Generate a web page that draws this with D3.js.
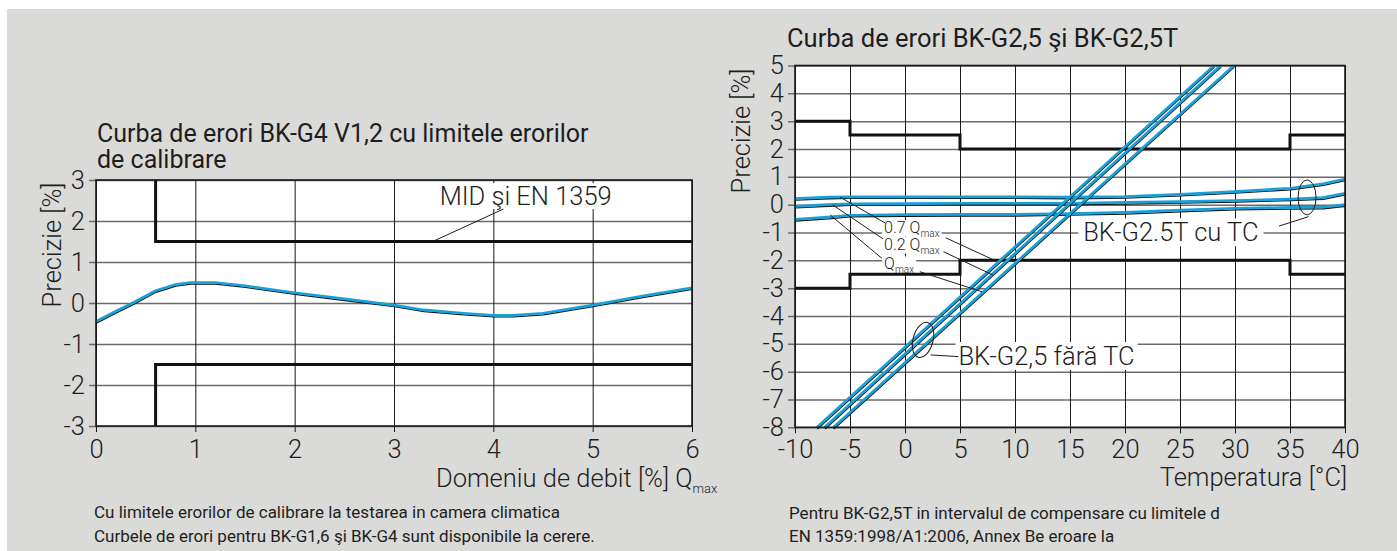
<!DOCTYPE html>
<html><head><meta charset="utf-8">
<script src="https://cdn.jsdelivr.net/npm/d3@7"></script>
<style>html,body{margin:0;padding:0;background:#fff;}svg{display:block;}</style>
</head><body>
<svg id="c" width="1397" height="551"></svg>
<script>
// ---------- data: left chart (BK-G4) ----------
const leftTitle = ["Curba de erori BK-G4 V1,2 cu limitele erorilor", "de calibrare"];
const leftXTicks = [0, 1, 2, 3, 4, 5, 6];
const leftYTicks = [3, 2, 1, 0, -1, -2, -3];
const curveQ   = [0, 0.2, 0.37, 0.6, 0.8, 0.95, 1.2, 1.5, 2, 2.5, 3, 3.3, 3.7, 4.0, 4.2, 4.5, 5, 5.5, 6];
const curveErr = [-0.45, -0.2, 0, 0.3, 0.45, 0.5, 0.5, 0.42, 0.25, 0.1, -0.05, -0.17, -0.25, -0.3, -0.3, -0.25, -0.05, 0.17, 0.37];
const limitQ = [0.6, 0.6, 6];
const upperLimitL = [3, 1.5, 1.5];
const lowerLimitL = [-3, -1.5, -1.5];

// ---------- data: right chart (BK-G2,5 / BK-G2,5T) ----------
const rightTitle = "Curba de erori BK-G2,5 şi BK-G2,5T";
const tempTicks = [-10, -5, 0, 5, 10, 15, 20, 25, 30, 35, 40];
const errTicks = [5, 4, 3, 2, 1, 0, -1, -2, -3, -4, -5, -6, -7, -8];
const limitTemp = [-10, -5, -5, 5, 5, 35, 35, 40];
const upperLimitR = [3, 3, 2.5, 2.5, 2, 2, 2.5, 2.5];
const lowerLimitR = [-3, -3, -2.5, -2.5, -2, -2, -2.5, -2.5];
// BK-G2,5 without temperature compensation (three flows)
const noTcErr = [-8, 5];
const noTcTemp07 = [-8.0, 28.1];
const noTcTemp02 = [-7.3, 28.7];
const noTcTempMax = [-6.5, 29.9];
// BK-G2.5T with temperature compensation
const tcTemp = [-10, -7, -5, 0, 5, 10, 15, 20, 25, 30, 35, 38, 40];
const tc07  = [0.22, 0.27, 0.28, 0.28, 0.28, 0.28, 0.27, 0.29, 0.37, 0.47, 0.59, 0.75, 0.92];
const tc02  = [-0.06, 0.0, 0.03, 0.04, 0.05, 0.05, 0.05, 0.08, 0.11, 0.15, 0.2, 0.25, 0.41];
const tcMax = [-0.53, -0.45, -0.38, -0.36, -0.35, -0.35, -0.32, -0.28, -0.2, -0.13, -0.1, -0.09, 0.0];

const FONT = "Roboto, 'Open Sans', 'DejaVu Sans', sans-serif";
const BIG = 25.5;
const BLUE = "#18a1d8";
const INK = "#1e1e1e";

const svg = d3.select("#c");
svg.append("rect").attr("x", 7).attr("y", 9).attr("width", 1390).attr("height", 542).attr("fill", "#dadad8");

function txt(g, x, y, s, size, weight, anchor) {
  return g.append("text").attr("x", x).attr("y", y).text(s)
    .attr("font-family", FONT).attr("font-size", size).attr("font-weight", weight || 400)
    .attr("fill", INK).attr("text-anchor", anchor || "start");
}
function boxBehind(boxG, t, padX, padY) {
  const b = t.node().getBBox();
  boxG.append("rect").attr("x", b.x - padX).attr("y", b.y - padY)
    .attr("width", b.width + 2 * padX).attr("height", b.height + 2 * padY).attr("fill", "#fff");
}
function blueLine(g, pts, x, y) {
  const line = d3.line().x(d => x(d[0])).y(d => y(d[1]));
  g.append("path").attr("d", line(pts)).attr("fill", "none").attr("stroke", "#111")
    .attr("stroke-width", 1.3).attr("transform", "translate(0.4,1.6)");
  g.append("path").attr("d", line(pts)).attr("fill", "none").attr("stroke", BLUE)
    .attr("stroke-width", 2.7).attr("stroke-linejoin", "round");
}
function grid(g, x, y, xt, yt, padB) {
  const [x0, x1] = x.range(), [y0, y1] = y.range();
  const ya = d3.axisLeft(y).tickValues(yt).tickFormat(d => String(d)).tickSize(x1 - x0 + 7).tickPadding(4);
  const yg = g.append("g").attr("transform", `translate(${x1},0)`).call(ya);
  yg.select(".domain").remove();
  yg.selectAll("line").attr("stroke", "#6b6b6b").attr("stroke-width", 1.5);
  yg.selectAll("text").attr("font-family", FONT).attr("font-size", BIG).attr("font-weight", 300).attr("fill", INK);
  const xa = d3.axisBottom(x).tickValues(xt).tickFormat(d => String(d)).tickSize(y0 - y1 + 6).tickPadding(padB);
  const xg = g.append("g").attr("transform", `translate(0,${y1})`).call(xa);
  xg.select(".domain").remove();
  xg.selectAll("line").attr("stroke", "#1a1a1a").attr("stroke-width", 1);
  xg.selectAll("text").attr("font-family", FONT).attr("font-size", BIG).attr("font-weight", 300).attr("fill", INK);
}

// ================= LEFT CHART =================
const L = svg.append("g");
const xL = d3.scaleLinear().domain([0, 6]).range([96, 692]);
const yL = d3.scaleLinear().domain([-3, 3]).range([426, 180]);
L.append("rect").attr("x", xL(0)).attr("y", yL(3)).attr("width", xL(6) - xL(0)).attr("height", yL(-3) - yL(3)).attr("fill", "#fff");
grid(L, xL, yL, leftXTicks, leftYTicks, 8);
const boxL = L.append("g");
const labL = L.append("g");

// MID label with leader
const midT = txt(labL, xL(3.46), yL(2.39), "MID şi EN 1359", BIG, 300);
boxBehind(boxL, midT, 2, -2);
L.append("line").attr("x1", xL(3.39)).attr("y1", yL(1.5)).attr("x2", xL(4.1)).attr("y2", yL(2.29)).attr("stroke", INK).attr("stroke-width", 1);

const limLine = d3.line().x(d => xL(d[0])).y(d => yL(d[1]));
L.append("path").attr("d", limLine(limitQ.map((q, i) => [q, upperLimitL[i]]))).attr("fill", "none").attr("stroke", "#111").attr("stroke-width", 3);
L.append("path").attr("d", limLine(limitQ.map((q, i) => [q, lowerLimitL[i]]))).attr("fill", "none").attr("stroke", "#111").attr("stroke-width", 3);
blueLine(L, curveQ.map((q, i) => [q, curveErr[i]]), xL, yL);
L.append("rect").attr("x", xL(0)).attr("y", yL(3)).attr("width", xL(6) - xL(0)).attr("height", yL(-3) - yL(3)).attr("fill", "none").attr("stroke", "#1a1a1a").attr("stroke-width", 1.6);
labL.raise();

txt(L, 97, 141.5, leftTitle[0], 25, 400);
txt(L, 97, 168, leftTitle[1], 25, 400);
txt(L, 0, 0, "Precizie [%]", BIG, 300, "middle").attr("transform", "translate(61,245) rotate(-90)");
const dt = txt(L, 436, 486.5, "Domeniu de debit [%] Q", BIG, 300);
dt.append("tspan").text("max").attr("font-size", 13).attr("dy", 6);
txt(L, 94, 518, "Cu limitele erorilor de calibrare la testarea in camera climatica", 17, 400);
txt(L, 94, 542, "Curbele de erori pentru BK-G1,6 şi BK-G4 sunt disponibile la cerere.", 17, 400);

// ================= RIGHT CHART =================
const R = svg.append("g");
const xR = d3.scaleLinear().domain([-10, 40]).range([795, 1345]);
const yR = d3.scaleLinear().domain([-8, 5]).range([427.3, 65.5]);
R.append("rect").attr("x", xR(-10)).attr("y", yR(5)).attr("width", xR(40) - xR(-10)).attr("height", yR(-8) - yR(5)).attr("fill", "#fff");
grid(R, xR, yR, tempTicks, errTicks, 7);
const boxR = R.append("g");

const limR = d3.line().x(d => xR(d[0])).y(d => yR(d[1]));
R.append("path").attr("d", limR(limitTemp.map((t, i) => [t, upperLimitR[i]]))).attr("fill", "none").attr("stroke", "#111").attr("stroke-width", 3);
R.append("path").attr("d", limR(limitTemp.map((t, i) => [t, lowerLimitR[i]]))).attr("fill", "none").attr("stroke", "#111").attr("stroke-width", 3);

[tc07, tc02, tcMax].forEach(s => blueLine(R, tcTemp.map((t, i) => [t, s[i]]), xR, yR));
[noTcTemp07, noTcTemp02, noTcTempMax].forEach(s => blueLine(R, s.map((t, i) => [t, noTcErr[i]]), xR, yR));

// leader lines
const leaders = [
  [-5.9, 0.27, -1.8, -0.66], [-6.57, -0.01, -2.0, -1.23], [-6.8, -0.37, -2.1, -1.93],
  [3.7, -1.19, 8.2, -2.01], [3.5, -1.69, 8.0, -2.53], [1.35, -2.41, 7.0, -3.13],
  [34.0, -0.77, 36.7, -0.43], [2.33, -5.4, 4.86, -5.46]
];
leaders.forEach(d => R.append("line").attr("x1", xR(d[0])).attr("y1", yR(d[1])).attr("x2", xR(d[2])).attr("y2", yR(d[3])).attr("stroke", INK).attr("stroke-width", 1));
R.append("ellipse").attr("cx", xR(36.55)).attr("cy", yR(0.26)).attr("rx", 9).attr("ry", 17.5).attr("fill", "none").attr("stroke", INK).attr("stroke-width", 1);
R.append("ellipse").attr("cx", xR(1.64)).attr("cy", yR(-4.86)).attr("rx", 10).attr("ry", 18).attr("fill", "none").attr("stroke", INK).attr("stroke-width", 1)
  .attr("transform", `rotate(15,${xR(1.64)},${yR(-4.86)})`);

R.append("rect").attr("x", xR(-10)).attr("y", yR(5)).attr("width", xR(40) - xR(-10)).attr("height", yR(-8) - yR(5)).attr("fill", "none").attr("stroke", "#1a1a1a").attr("stroke-width", 1.6);

// labels (boxes drawn in boxR, underneath everything)
const labR = R.append("g");
function subLabel(g, x, y, pre, size) {
  const t = txt(g, x, y, pre, size, 300);
  t.append("tspan").text("max").attr("font-size", 10).attr("dy", 3.5);
  return t;
}
const l07 = subLabel(labR, xR(-1.9), yR(-1.02), "0.7 Q", 16);
const l02 = subLabel(labR, xR(-1.9), yR(-1.63), "0.2 Q", 16);
const lmx = subLabel(labR, xR(-1.9), yR(-2.33), "Q", 16);
[l07, l02, lmx].forEach(t => boxBehind(boxR, t, 2, -2));
const lTc = txt(labR, xR(16.2), yR(-1.32), "BK-G2.5T cu TC", BIG, 300);
boxBehind(boxR, lTc, 5, -1);
const lNo = txt(labR, xR(4.86), yR(-5.76), "BK-G2,5 fără TC", BIG, 300);
boxBehind(boxR, lNo, 3, -1);

txt(R, 787, 46.7, rightTitle, BIG, 400);
txt(R, 0, 0, "Precizie [%]", BIG, 300, "middle").attr("transform", "translate(750,131) rotate(-90)");
txt(R, 1347, 486, "Temperatura [°C]", BIG, 300, "end");
txt(R, 789, 519, "Pentru BK-G2,5T in intervalul de compensare cu limitele d", 17, 400);
txt(R, 789, 542, "EN 1359:1998/A1:2006, Annex Be eroare la", 17, 400);
</script>
</body></html>
